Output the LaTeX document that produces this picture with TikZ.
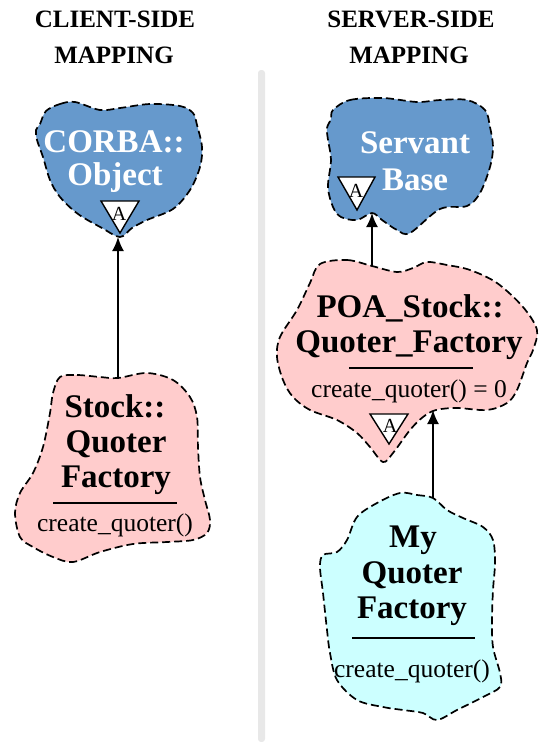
\documentclass[tikz,border=0pt]{standalone}
\usepackage{fontspec}
\setmainfont{Liberation Serif}
\usetikzlibrary{arrows.meta}
\definecolor{cblue}{RGB}{102,153,204}
\definecolor{cpink}{RGB}{255,204,204}
\definecolor{ccyan}{RGB}{204,255,255}
\definecolor{cdiv}{RGB}{232,232,232}
\tikzset{
  blob/.style={draw=black, line width=1.7pt, dash pattern=on 8pt off 4pt},
  ttl/.style={font=\fontsize{33}{36}\selectfont\bfseries, anchor=base, inner sep=0pt},
  ttlw/.style={ttl, text=white},
  meth/.style={font=\fontsize{25.5}{28}\selectfont, anchor=base, inner sep=0pt},
  hdr/.style={font=\fontsize{25}{28}\selectfont\bfseries, anchor=base, inner sep=0pt},
  abstri/.style={draw=black, fill=white, line width=1.4pt, line join=miter},
  absA/.style={font=\fontsize{20}{22}\selectfont, anchor=base, inner sep=0pt},
  arr/.style={line width=2pt, -{Latex[length=14pt,width=12pt]}},
  sepl/.style={line width=1.6pt},
}
\begin{document}
\begin{tikzpicture}[x=1pt,y=-1pt]
\useasboundingbox (0,0) rectangle (542,742);
% divider
\fill[cdiv, rounded corners=3pt] (258,70) rectangle (265,742);

% headings
\node[hdr] (hcl1) at (115,27) {CLIENT-SIDE};
\node[hdr] (hcl2) at (114,63) {MAPPING};
\node[hdr] (hsv1) at (411,27) {SERVER-SIDE};
\node[hdr] (hsv2) at (409,63) {MAPPING};

% ---------- CORBA::Object ----------
\filldraw[blob, fill=cblue] plot[smooth cycle, tension=0.55] coordinates {
 (46,111) (60,104) (75,102) (100,110) (120,108) (150,104) (180,106) (193,113)
 (197,125) (202,147) (200,167) (190,190) (173,209) (147,220) (132,228) (120,237)
 (102,228) (78,214) (60,197) (50,180) (43,157) (37,140) (36,130) (40,124)};
\node[ttlw] (corba1) at (114,152) {CORBA::};
\node[ttlw] (corba2) at (115,185) {Object};
\draw[abstri] (101,201) -- (139,201) -- (120,233) -- cycle;
\node[absA] (corbaA) at (119,220) {A};
\coordinate (corbaBot) at (118,237);

% ---------- Stock::Quoter Factory ----------
\filldraw[blob, fill=cpink] plot[smooth cycle, tension=0.55] coordinates {
 (60,377) (77,375) (100,377) (118,378) (147,373) (173,380) (190,397) (197,417)
 (198,447) (200,477) (205,500) (210,520) (207,533) (193,540) (167,542) (133,544)
 (100,552) (73,562) (53,557) (33,547) (20,537) (15,513) (20,493) (33,473)
 (43,447) (50,413) (53,393)};
\node[ttl] (stock1) at (115,417) {Stock::};
\node[ttl] (stock2) at (116,452) {Quoter};
\node[ttl] (stock3) at (116,487) {Factory};
\draw[sepl] (53,503) -- (177,503);
\node[meth] (stockm) at (115,531) {create\_quoter()};
\coordinate (stockTop) at (118,378);

% ---------- Servant Base ----------
\filldraw[blob, fill=cblue] plot[smooth cycle, tension=0.55] coordinates {
 (333,110) (350,100) (383,98) (417,102) (440,100) (467,100) (485,110) (490,127)
 (493,147) (490,167) (480,193) (467,206) (440,209) (410,233) (397,230) (382,220)
 (372,213) (357,220) (341,217) (333,207) (328,187) (331,160) (328,140) (327,128)
 (331,119)};
\node[ttlw] (serv1) at (415,153) {Servant};
\node[ttlw] (serv2) at (415,190) {Base};
\draw[abstri] (338,177) -- (375,177) -- (357,210) -- cycle;
\node[absA] (servA) at (356,197) {A};
\coordinate (servBot) at (372,213);

% ---------- POA_Stock::Quoter_Factory ----------
\filldraw[blob, fill=cpink] plot[smooth cycle, tension=0.55] coordinates {
 (320,264) (347,260) (372,266) (397,272) (413,268) (427,262) (447,265) (470,270)
 (497,283) (523,307) (537,330) (533,350) (527,363) (517,390) (507,403) (487,410)
 (457,408) (436,410) (423,417) (410,430) (393,453) (383,462) (370,447) (357,433)
 (337,420) (310,410) (293,397) (283,380) (277,357) (280,337) (297,310) (310,283)};
\node[ttl] (poa1) at (410,317) {POA\_Stock::};
\node[ttl] (poa2) at (409,352) {Quoter\_Factory};
\draw[sepl] (349,368) -- (473,368);
\node[meth] (poam) at (409,397) {create\_quoter() = 0};
\draw[abstri] (370,414) -- (408,414) -- (389,444) -- cycle;
\node[absA] (poaA) at (390,432) {A};
\coordinate (poaTop) at (372,266);
\coordinate (poaBot) at (433,410);

% ---------- My Quoter Factory ----------
\filldraw[blob, fill=ccyan] plot[smooth cycle, tension=0.55] coordinates {
 (400,493) (417,495) (433,498) (447,510) (463,518) (483,527) (493,540) (495,563)
 (493,590) (492,620) (493,647) (500,673) (500,687) (483,697) (457,710) (437,720)
 (423,713) (403,710) (383,707) (357,700) (337,680) (330,653) (327,630) (323,593)
 (320,567) (323,555) (337,552) (347,540) (357,517) (377,503)};
\node[ttl] (my1) at (413,547) {My};
\node[ttl] (my2) at (412,583) {Quoter};
\node[ttl] (my3) at (412,618) {Factory};
\draw[sepl] (352,638) -- (475,638);
\node[meth] (mym) at (412,677) {create\_quoter()};
\coordinate (myTop) at (433,498);

% ---------- connectors ----------
\draw[arr] (stockTop) -- (corbaBot);
\draw[arr] (poaTop) -- (servBot);
\draw[arr] (myTop) -- (poaBot);
\end{tikzpicture}
\end{document}
